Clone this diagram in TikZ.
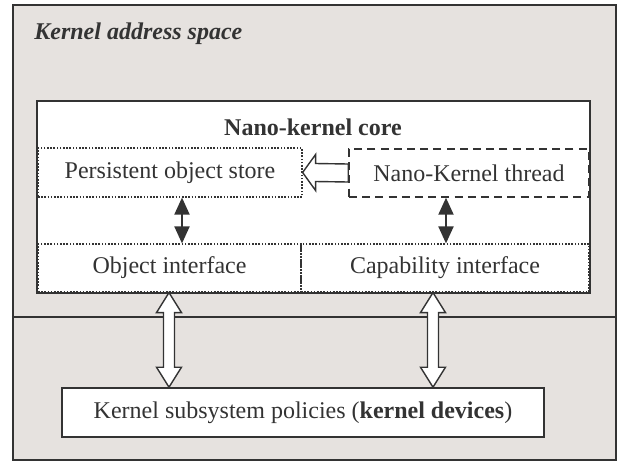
\documentclass[tikz,border=0pt]{standalone}
\usepackage{fontspec}
\setmainfont{Liberation Serif}
\usepackage{tikz}
\usetikzlibrary{calc,arrows.meta}

\definecolor{inkgray}{HTML}{333333}
\definecolor{spacegray}{HTML}{E6E2DF}

\tikzset{
  box/.style={draw=inkgray, line width=0.8pt, fill=white, inner sep=0pt},
  dotbox/.style={draw=inkgray, line width=0.6pt, dash pattern=on 0.8pt off 0.8pt, inner sep=0pt},
  dashbox/.style={draw=inkgray, line width=0.7pt, dash pattern=on 4pt off 2.6pt, inner sep=0pt},
  darrow/.style={draw=inkgray, line width=1pt, {Triangle[length=8.5pt,width=7.5pt]}-{Triangle[length=8.5pt,width=7.5pt]}},
  fat/.style={draw=inkgray, line width=0.7pt, fill=white, line join=miter},
}

\begin{document}
\begin{tikzpicture}[x=0.5pt, y=-0.5pt, font=\fontsize{12}{14}\selectfont, text=inkgray]
  \useasboundingbox (0,0) rectangle (618,462);

  % KERNEL ADDRESS SPACE
  \node[draw=inkgray, line width=1pt, fill=spacegray, inner sep=0pt,
        minimum width=301.5pt, minimum height=227.5pt] (kas) at (314.5,232.5) {};
  \node[anchor=base west, inner sep=0pt] (kastitle) at (34,39) {\textbf{\textit{Kernel address space}}};
  \coordinate (cut) at (0,317);
  \draw[inkgray, line width=0.8pt] (kas.west |- cut) -- (kas.east |- cut);

  % NANO-KERNEL CORE
  \node[box, minimum width=276.5pt, minimum height=96pt] (core) at (313.5,197) {};
  \node[anchor=base, inner sep=0pt] (coretitle) at (313,135) {\textbf{Nano-kernel core}};

  \node[dotbox, minimum width=132pt, minimum height=24.5pt] (store) at (170,172.5) {Persistent object store};
  \node[dashbox, minimum width=120pt, minimum height=24pt] (thread) at (469,173) {Nano-Kernel thread};
  \node[dotbox, minimum width=131.5pt, minimum height=24pt] (objif) at (169.5,268) {Object interface};
  \node[dotbox, minimum width=144pt, minimum height=24pt] (capif) at (445,268) {Capability interface};

  % POLICIES
  \node[box, minimum width=241pt, minimum height=24.5pt] (policies) at (303,412.5)
    {Kernel subsystem policies (\textbf{kernel devices})};

  % FLECHES
  \coordinate (linkL) at (182,0);
  \coordinate (linkR) at (446,0);
  \draw[darrow] (store.south -| linkL) -- (objif.north -| linkL);
  \draw[darrow] (thread.south -| linkR) -- (capif.north -| linkR);

  \draw[fat] (store.east) -- ++(13,-18) -- ++(0,9) -- ($(thread.west)+(0,-9)$)
    -- ($(thread.west)+(0,9)$) -- ($(store.east)+(13,9)$) -- ++(0,9) -- cycle;

  \coordinate (busL) at (169,0);
  \coordinate (busR) at (433,0);
  \foreach \b/\up in {busL/objif, busR/capif} {
    \coordinate (t) at (\up.south -| \b);
    \coordinate (s) at (policies.north -| \b);
    \draw[fat] (t) -- ++(12.5,20) -- ++(-7,0) -- ($(s)+(5.5,-20)$) -- ++(7,0)
      -- (s) -- ++(-12.5,-20) -- ++(7,0) -- ($(t)+(-5.5,20)$) -- ++(-7,0) -- cycle;
  }
\end{tikzpicture}
\end{document}
